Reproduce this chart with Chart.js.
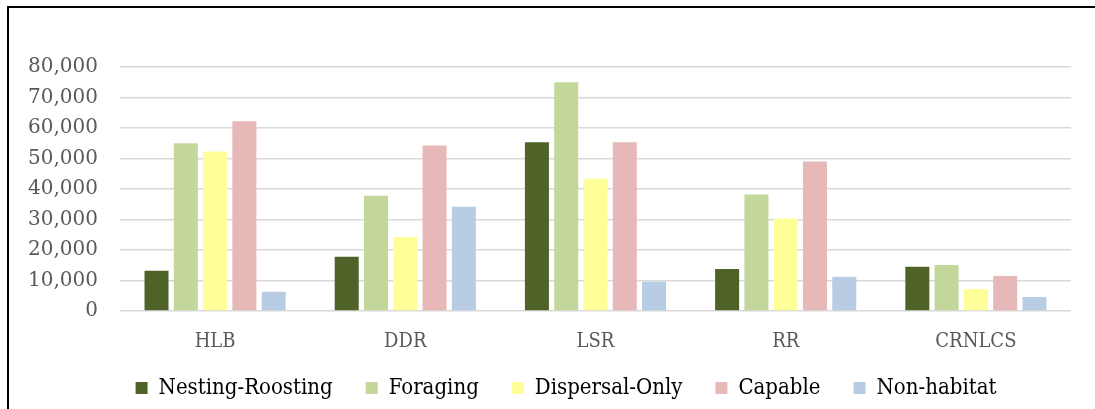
<!DOCTYPE html>
<html>
<head>
<meta charset="utf-8">
<script src="https://cdn.jsdelivr.net/npm/chart.js@4/dist/chart.umd.min.js"></script>
<style>
  html, body { margin: 0; padding: 0; background: #fff; }
  body { width: 1095px; height: 409px; position: relative; overflow: hidden; }
  #frame {
    position: absolute; left: 7px; top: 6px; right: -4px; bottom: -4px;
    border-left: 2px solid #000; border-top: 2px solid #000;
  }
  #wrap { position: absolute; left: 9px; top: 8px; width: 1086px; height: 411px; }
</style>
</head>
<body>
<div id="frame"></div>
<div id="wrap"><canvas id="chart"></canvas></div>
<script>
// Study areas along the x axis
const areas = ['HLB', 'DDR', 'LSR', 'RR', 'CRNLCS'];

// Habitat classes (series)
const seriesNames = ['Nesting-Roosting', 'Foraging', 'Dispersal-Only', 'Capable', 'Non-habitat'];

// Acres per study area, one array per habitat class
const nestingRoosting = [13200, 17800, 55300, 13800, 14500];
const foraging        = [55000, 37800, 75000, 38200, 15100];
const dispersalOnly   = [52300, 24300, 43400, 30300, 7200];
const capable         = [62200, 54300, 55300, 49000, 11500];
const nonHabitat      = [6300, 34200, 9600, 11200, 4600];

// Value axis ticks
const yTicks = [0, 10000, 20000, 30000, 40000, 50000, 60000, 70000, 80000];

const seriesValues = [nestingRoosting, foraging, dispersalOnly, capable, nonHabitat];
const seriesColors = ['#4F6228', '#C4D79B', '#FFFF99', '#E6B8B7', '#B8CCE4'];

const serif = "'DejaVu Serif', 'Liberation Serif', serif";
const serifCond = "'DejaVu Serif Condensed', 'DejaVu Serif', serif";

// Legend row placement: horizontal centre and a small lift towards the axis labels
const LEGEND_CENTER_X = 557;
const LEGEND_LIFT = 10;

const legendPlacement = {
  id: 'legendPlacement',
  afterLayout(chart) {
    const lg = chart.legend;
    if (!lg) return;
    const dx = LEGEND_CENTER_X - (lg.left + lg.right) / 2;
    lg.left += dx;
    lg.right += dx;
    lg.top -= LEGEND_LIFT;
    lg.bottom -= LEGEND_LIFT;
    if (lg.legendHitBoxes) lg.legendHitBoxes.forEach(b => { b.left += dx; b.top -= LEGEND_LIFT; });
  }
};

new Chart(document.getElementById('chart'), {
  type: 'bar',
  data: {
    labels: areas,
    datasets: seriesNames.map((name, i) => ({
      label: name,
      data: seriesValues[i],
      backgroundColor: seriesColors[i],
      borderWidth: 0,
      categoryPercentage: 0.77,
      barPercentage: 0.82
    }))
  },
  plugins: [legendPlacement],
  options: {
    responsive: true,
    maintainAspectRatio: false,
    animation: false,
    layout: { padding: { top: 59, right: 24, left: 0, bottom: 0 } },
    plugins: {
      title: { display: false },
      tooltip: { enabled: false },
      legend: {
        position: 'bottom',
        labels: {
          boxWidth: 12,
          boxHeight: 12,
          padding: 33,
          color: '#000',
          font: { family: serifCond, size: 22 }
        }
      }
    },
    scales: {
      x: {
        afterFit: (scale) => { scale.height = 43; },
        grid: { display: false, drawTicks: false },
        border: { display: false },
        ticks: {
          color: '#595959',
          padding: 19,
          font: { family: serifCond, size: 20 }
        }
      },
      y: {
        min: 0,
        max: 80000,
        afterFit: (scale) => { scale.width = 111; },
        afterBuildTicks: (scale) => { scale.ticks = yTicks.map(v => ({ value: v })); },
        grid: { color: '#D9D9D9', lineWidth: 1.4, drawTicks: false },
        border: { display: false },
        ticks: {
          color: '#595959',
          padding: 22,
          font: { family: serif, size: 20 },
          callback: (v) => Number(v).toLocaleString('en-US')
        }
      }
    }
  }
});
</script>
</body>
</html>
